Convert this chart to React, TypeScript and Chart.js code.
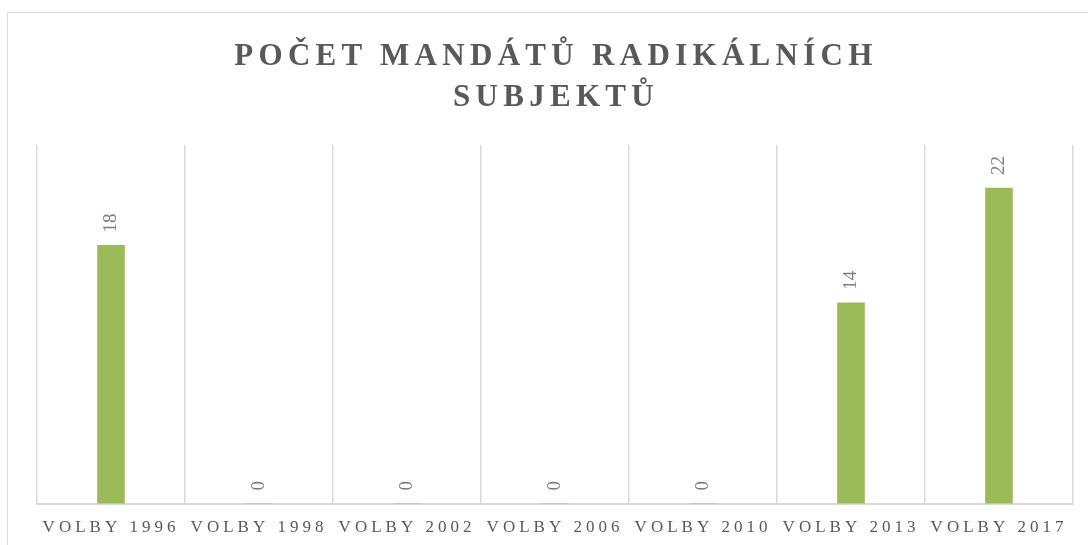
import React, { useEffect, useRef } from "react";
import { Chart, registerables } from "chart.js";

Chart.register(...registerables);

const categories = ["VOLBY 1996", "VOLBY 1998", "VOLBY 2002", "VOLBY 2006", "VOLBY 2010", "VOLBY 2013", "VOLBY 2017"];
const mandates = [18, 0, 0, 0, 0, 14, 22];
const titleLines = ["POČET MANDÁTŮ RADIKÁLNÍCH", "SUBJEKTŮ"];

const spacingPlugin = {
  id: "spacing",
  beforeLayout(chart: any) {
    chart.ctx.letterSpacing = "4px";
  },
  beforeDraw(chart: any) {
    chart.ctx.letterSpacing = "4px";
  },
};

const labelPlugin = {
  id: "valueLabels",
  afterDatasetsDraw(chart: any) {
    const ctx = chart.ctx;
    const meta = chart.getDatasetMeta(0);
    const data = chart.data.datasets[0].data;
    ctx.save();
    ctx.letterSpacing = "0px";
    ctx.font = "19px 'Liberation Serif', serif";
    ctx.fillStyle = "#7f7f7f";
    ctx.textAlign = "left";
    ctx.textBaseline = "middle";
    meta.data.forEach((el: any, i: number) => {
      ctx.save();
      ctx.translate(el.x, el.y - 13);
      ctx.rotate(-Math.PI / 2);
      ctx.fillText(String(data[i]), 0, 0);
      ctx.restore();
    });
    ctx.restore();
  },
};

export default function App() {
  const ref = useRef<HTMLCanvasElement>(null);
  useEffect(() => {
    if (!ref.current) return;
    const chart = new Chart(ref.current, {
      type: "bar",
      data: {
        labels: categories,
        datasets: [
          {
            data: mandates,
            backgroundColor: "#9bbb59",
            barThickness: 27,
          },
        ],
      },
      options: {
        animation: false,
        responsive: false,
        maintainAspectRatio: false,
        layout: { padding: { left: 37, right: 15, top: 145, bottom: -7 } },
        plugins: { legend: { display: false }, tooltip: { enabled: false }, title: { display: false } },
        scales: {
          x: {
            grid: { color: "#d9d9d9", lineWidth: 1.5, drawTicks: false, offset: true },
            border: { color: "#d9d9d9", width: 2 },
            ticks: {
              color: "#595959",
              font: { family: "'Liberation Serif', serif", size: 17 },
              padding: 14,
              maxRotation: 0,
              autoSkip: false,
            },
          },
          y: { display: false, min: 0, max: 25 },
        },
      },
      plugins: [spacingPlugin, labelPlugin],
    });
    return () => chart.destroy();
  }, []);
  return (
    <div style={{ position: "fixed", left: 0, top: 0, width: 1088, height: 545, overflow: "hidden", background: "#fff" }}>
      <div
        style={{
          position: "absolute",
          left: 7,
          top: 12,
          width: 1120,
          height: 580,
          borderLeft: "1.5px solid #d9d9d9",
          borderTop: "1.5px solid #d9d9d9",
        }}
      />
      <canvas ref={ref} width={1088} height={545} style={{ position: "absolute", left: 0, top: 0, width: 1088, height: 545 }} />
      <div
        style={{
          position: "absolute",
          left: 0,
          top: 34,
          width: 1112,
          textAlign: "center",
          fontFamily: "'Liberation Serif', serif",
          fontWeight: "bold",
          fontSize: 31,
          lineHeight: "41px",
          letterSpacing: "5.3px",
          color: "#595959",
        }}
      >
        {titleLines.map((l) => (
          <div key={l}>{l}</div>
        ))}
      </div>
    </div>
  );
}
